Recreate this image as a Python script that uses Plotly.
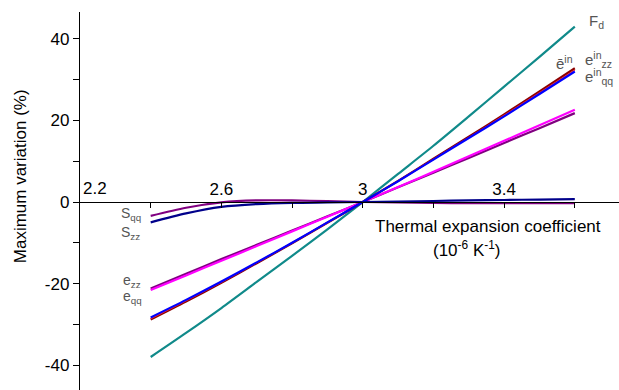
import plotly.graph_objects as go

# ---- data ----
x_vals = [2.4, 2.5, 2.6, 2.7, 2.8, 2.9, 3.0, 3.1, 3.2, 3.3, 3.4, 3.5, 3.6]
F_d = [-38.0, -32.1, -26.0, -19.6, -13.2, -6.7, 0, 6.9, 13.8, 21.0, 28.3, 35.6, 43.0]
e_bar_in = [-28.8, -24.4, -19.8, -15.0, -10.1, -5.1, 0, 5.2, 10.6, 16.0, 21.5, 27.1, 32.8]
e_in_zz = [-28.6, -24.2, -19.65, -14.9, -10.05, -5.05, 0, 5.15, 10.5, 15.85, 21.25, 26.8, 32.4]
e_in_qq = [-28.3, -24.0, -19.5, -14.8, -10.0, -5.0, 0, 5.1, 10.4, 15.7, 21.0, 26.5, 32.0]
e_zz = [-21.2, -17.6, -14.0, -10.5, -7.0, -3.5, 0, 3.6, 7.2, 10.8, 14.5, 18.1, 21.8]
e_qq = [-21.6, -18.0, -14.4, -10.8, -7.2, -3.6, 0, 3.7, 7.4, 11.2, 15.0, 18.8, 22.6]
S_qq = [-3.4, -1.4, -0.1, 0.4, 0.4, 0.2, 0, -0.1, -0.2, -0.3, -0.3, -0.3, -0.3]
S_zz = [-5.0, -2.8, -1.2, -0.5, -0.2, -0.1, 0, 0.1, 0.25, 0.4, 0.5, 0.6, 0.7]

x_tickvals = [2.2, 2.4, 2.6, 2.8, 3.0, 3.2, 3.4, 3.6]
x_ticktext = ["", "", "2.6", "", "3", "", "3.4", ""]
first_x_label = "2.2"
y_tickvals = [-40, -30, -20, -10, 0, 10, 20, 30, 40]
y_ticktext = ["-40", "", "-20", "", "0", "", "20", "", "40"]

x_range = [2.2, 3.725]
y_range = [-46.1, 46.6]

FONT = "Liberation Sans, Arial, sans-serif"
LBL = "#555555"

series = [
    (F_d, "#108a8a", 2.2),
    (e_zz, "#800080", 2.2),
    (e_qq, "#ff00ff", 2.2),
    (e_bar_in, "#8b0000", 2.2),
    (e_in_zz, "#ff3030", 1.2),
    (e_in_qq, "#0000ff", 2.2),
    (S_qq, "#800080", 2.2),
    (S_zz, "#00008b", 2.2),
]

fig = go.Figure()
for ys, col, w in series:
    fig.add_trace(go.Scatter(x=x_vals, y=ys, mode="lines",
                             line=dict(color=col, width=w, shape="spline", smoothing=0.8),
                             showlegend=False, hoverinfo="skip"))

zero_pos = (0 - y_range[0]) / (y_range[1] - y_range[0])

fig.update_layout(
    width=619, height=390,
    margin=dict(l=80, r=0, t=12, b=0),
    paper_bgcolor="white", plot_bgcolor="white",
    font=dict(family=FONT, size=17, color="black"),
    xaxis=dict(range=x_range, tickvals=x_tickvals, ticktext=x_ticktext,
               side="top", anchor="free", position=zero_pos,
               ticks="inside", ticklen=5, tickwidth=1.3, tickcolor="black",
               showline=True, linecolor="black", linewidth=1.3,
               showgrid=False, zeroline=False, tickfont=dict(size=17)),
    yaxis=dict(range=y_range, tickvals=y_tickvals, ticktext=y_ticktext,
               ticks="outside", ticklen=6, tickwidth=1.3, tickcolor="black",
               showline=True, linecolor="black", linewidth=1.3,
               showgrid=False, zeroline=False, tickfont=dict(size=17)),
)

# first x tick label, placed just right of the y axis
fig.add_annotation(x=x_tickvals[0], y=0, xref="x", yref="y", text=first_x_label,
                   showarrow=False, xanchor="left", yanchor="bottom", xshift=1, yshift=2,
                   font=dict(family=FONT, size=17, color="black"))

annots = [
    dict(x=3.634, y=44.3, text="F<sub>d</sub>", size=15),
    dict(x=3.54, y=34.3, text="ē<sup>in</sup>", size=15),
    dict(x=3.622, y=35.0, text="e<sup>in</sup><sub>zz</sub>", size=15),
    dict(x=3.622, y=30.8, text="e<sup>in</sup><sub>qq</sub>", size=15),
    dict(x=2.31, y=-3.0, text="S<sub>qq</sub>", size=14),
    dict(x=2.31, y=-7.5, text="S<sub>zz</sub>", size=14),
    dict(x=2.315, y=-19.3, text="e<sub>zz</sub>", size=14),
    dict(x=2.315, y=-23.3, text="e<sub>qq</sub>", size=14),
]
for a in annots:
    fig.add_annotation(x=a["x"], y=a["y"], xref="x", yref="y", text=a["text"],
                       showarrow=False, xanchor="left", yanchor="middle",
                       font=dict(family=FONT, size=a["size"], color=LBL))

# axis titles
fig.add_annotation(x=3.353, y=-5.9, xref="x", yref="y",
                   text="Thermal expansion coefficient", showarrow=False,
                   xanchor="center", yanchor="middle",
                   font=dict(family=FONT, size=17, color="black"))
fig.add_annotation(x=3.294, y=-11.4, xref="x", yref="y",
                   text="(10<sup>-6</sup> K<sup>-1</sup>)", showarrow=False,
                   xanchor="center", yanchor="middle",
                   font=dict(family=FONT, size=17, color="black"))
fig.add_annotation(x=-0.111, y=0.566, xref="paper", yref="paper",
                   text="Maximum variation (%)", showarrow=False, textangle=-90,
                   xanchor="center", yanchor="middle",
                   font=dict(family=FONT, size=17, color="black"))

fig.write_html("out.html")
